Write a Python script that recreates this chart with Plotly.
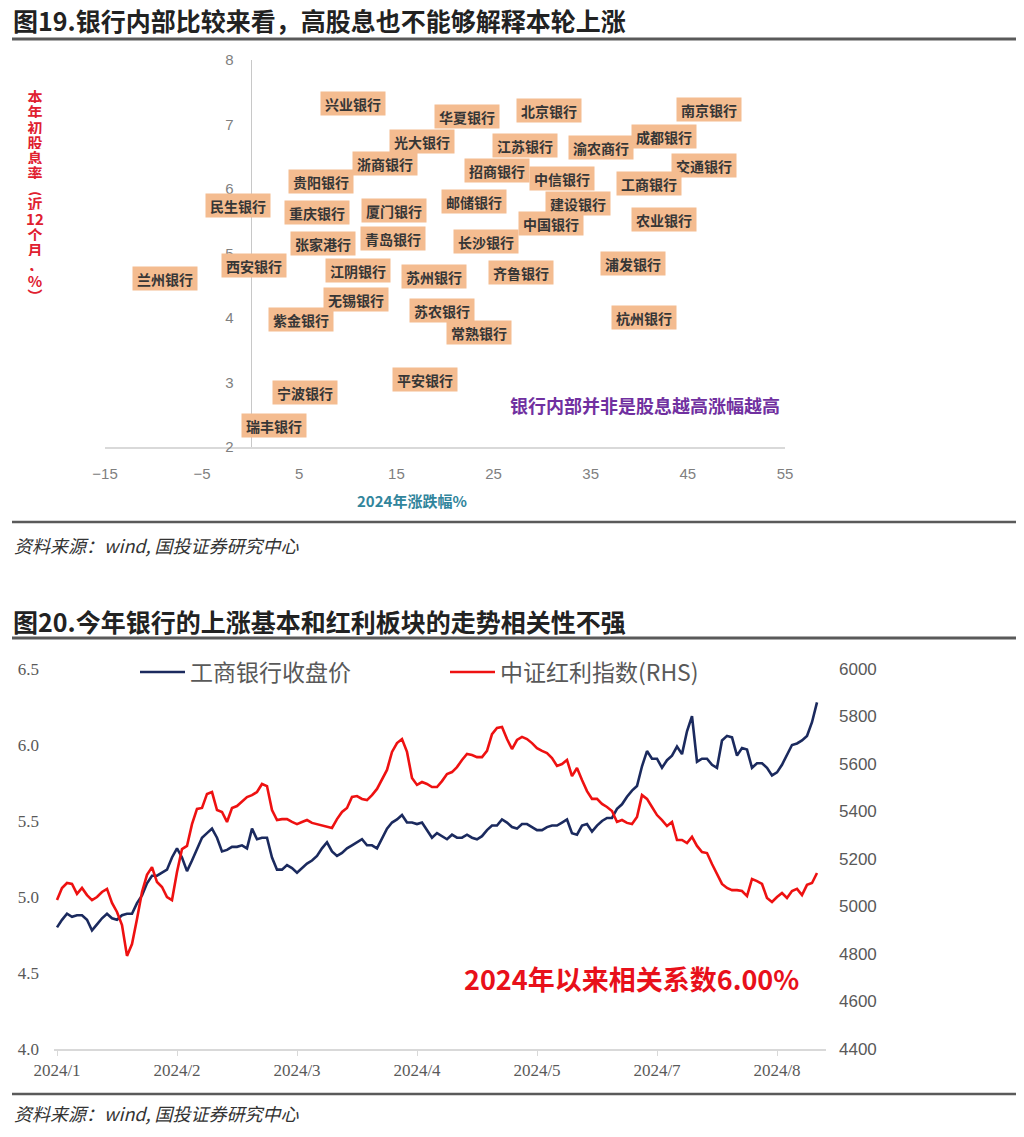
import plotly.graph_objects as go

W, H = 1024, 1137

# ---------------- Figure 19 data ----------------
bank_names = ["兴业银行", "华夏银行", "北京银行", "南京银行", "光大银行", "江苏银行", "渝农商行",
              "成都银行", "浙商银行", "招商银行", "中信银行", "交通银行", "工商银行", "贵阳银行",
              "民生银行", "重庆银行", "厦门银行", "邮储银行", "建设银行", "中国银行", "农业银行",
              "张家港行", "青岛银行", "长沙银行", "西安银行", "兰州银行", "江阴银行", "苏州银行",
              "齐鲁银行", "浦发银行", "无锡银行", "紫金银行", "苏农银行", "常熟银行", "杭州银行",
              "平安银行", "宁波银行", "瑞丰银行"]
return_2024 = [10.5, 22.3, 30.7, 47.2, 17.6, 28.2, 36.1,
               42.5, 13.8, 25.4, 32.0, 46.7, 41.0, 7.2,
               -1.3, 6.8, 14.8, 23.0, 33.7, 30.9, 42.5,
               7.4, 14.6, 24.2, 0.3, -8.8, 11.0, 18.9,
               27.8, 39.4, 10.8, 5.2, 19.7, 23.5, 40.5,
               17.9, 5.6, 2.4]
dividend_yield = [7.33, 7.12, 7.21, 7.24, 6.74, 6.68, 6.65,
                  6.82, 6.39, 6.29, 6.17, 6.36, 6.08, 6.11,
                  5.74, 5.63, 5.66, 5.80, 5.77, 5.46, 5.52,
                  5.16, 5.24, 5.19, 4.81, 4.62, 4.74, 4.65,
                  4.70, 4.84, 4.28, 3.97, 4.11, 3.77, 4.00,
                  3.05, 2.84, 2.34]
x1_range = [-15, 55]
y1_range = [2, 8]

# ---------------- Figure 20 data ----------------
icbc_close = [4.80, 4.85, 4.89, 4.87, 4.88, 4.88, 4.85, 4.78, 4.82, 4.86,
              4.89, 4.86, 4.85, 4.88, 4.89, 4.89, 4.96, 5.01, 5.09, 5.14,
              5.14, 5.16, 5.18, 5.26, 5.32, 5.26, 5.17, 5.24, 5.31, 5.39,
              5.42, 5.45, 5.39, 5.30, 5.31, 5.33, 5.33, 5.34, 5.32, 5.45,
              5.38, 5.39, 5.39, 5.26, 5.18, 5.18, 5.21, 5.19, 5.16, 5.19,
              5.22, 5.24, 5.27, 5.32, 5.36, 5.30, 5.27, 5.29, 5.32, 5.34,
              5.36, 5.38, 5.34, 5.34, 5.32, 5.39, 5.45, 5.49, 5.51, 5.54,
              5.49, 5.49, 5.48, 5.49, 5.44, 5.39, 5.42, 5.40, 5.38, 5.41,
              5.39, 5.39, 5.41, 5.39, 5.38, 5.40, 5.44, 5.47, 5.47, 5.51,
              5.49, 5.46, 5.45, 5.48, 5.48, 5.46, 5.44, 5.44, 5.46, 5.47,
              5.47, 5.49, 5.51, 5.42, 5.41, 5.47, 5.48, 5.43, 5.47, 5.50,
              5.52, 5.52, 5.58, 5.61, 5.66, 5.70, 5.73, 5.86, 5.96, 5.91,
              5.91, 5.85, 5.90, 5.93, 5.99, 5.94, 6.09, 6.19, 5.89, 5.91,
              5.91, 5.87, 5.85, 6.03, 6.06, 6.05, 5.93, 5.98, 5.97, 5.85,
              5.88, 5.88, 5.85, 5.80, 5.82, 5.87, 5.93, 6.00, 6.01, 6.03,
              6.06, 6.15, 6.28]
csi_dividend = [5027, 5078, 5099, 5095, 5053, 5078, 5048, 5027, 5040, 5061,
                5074, 5015, 4977, 4922, 4792, 4842, 4947, 5061, 5133, 5166,
                5103, 5082, 5040, 5027, 5145, 5242, 5255, 5347, 5411, 5415,
                5474, 5482, 5406, 5398, 5356, 5415, 5423, 5444, 5461, 5469,
                5482, 5516, 5507, 5406, 5364, 5368, 5368, 5356, 5347, 5356,
                5364, 5352, 5347, 5343, 5335, 5331, 5368, 5398, 5415, 5461,
                5465, 5453, 5448, 5469, 5495, 5533, 5575, 5651, 5688, 5705,
                5651, 5541, 5512, 5524, 5516, 5503, 5503, 5528, 5558, 5566,
                5587, 5617, 5642, 5638, 5629, 5629, 5655, 5726, 5752, 5756,
                5705, 5663, 5701, 5714, 5705, 5688, 5667, 5655, 5646, 5625,
                5592, 5600, 5617, 5549, 5583, 5533, 5486, 5453, 5453, 5432,
                5419, 5402, 5356, 5364, 5352, 5347, 5377, 5469, 5453, 5419,
                5385, 5364, 5339, 5356, 5280, 5280, 5267, 5293, 5255, 5229,
                5225, 5179, 5137, 5095, 5078, 5069, 5069, 5065, 5044, 5116,
                5107, 5095, 5036, 5019, 5040, 5057, 5036, 5065, 5074, 5048,
                5091, 5099, 5141]
day_index = list(range(len(icbc_close)))
tick_positions = [0, 24, 48, 72, 96, 120, 144]
tick_labels = ["2024/1", "2024/2", "2024/3", "2024/4", "2024/5", "2024/7", "2024/8"]


def px_x(px):
    return px / W


def px_y(py):
    return 1 - py / H


CJK = "Noto Sans CJK SC"

fig = go.Figure()

# ---- Figure 19 scatter ----
fig.add_trace(go.Scatter(
    x=return_2024, y=dividend_yield, mode="markers",
    marker=dict(size=2, color="rgba(0,0,0,0)"),
    xaxis="x", yaxis="y", showlegend=False, hoverinfo="text", text=bank_names))

for name, xv, yv in zip(bank_names, return_2024, dividend_yield):
    fig.add_annotation(x=xv, y=yv, xref="x", yref="y", text="<b>" + name + "</b>",
                       showarrow=False, bgcolor="#F4BC90", width=60, height=19, borderpad=2,
                       font=dict(family=CJK, size=14, color="#363636"))

# ---- Figure 20 lines ----
fig.add_trace(go.Scatter(
    x=day_index, y=icbc_close, mode="lines", name="工商银行收盘价",
    line=dict(color="#1B2A5E", width=2.6), xaxis="x2", yaxis="y3"))
fig.add_trace(go.Scatter(
    x=day_index, y=csi_dividend, mode="lines", name="中证红利指数(RHS)",
    line=dict(color="#EE1111", width=2.6), xaxis="x2", yaxis="y4"))

top_xdom = [px_x(105), px_x(785)]
top_ydom = [px_y(447), px_y(60)]
yaxis_pos = top_xdom[0] + (0 - x1_range[0]) / (x1_range[1] - x1_range[0]) * (top_xdom[1] - top_xdom[0])

bot_xdom = [px_x(54), px_x(826)]
bot_ydom = [px_y(1049), px_y(669)]

tick_font_top = dict(family="Liberation Sans", size=15, color="#7F7F7F")
serif_tick = dict(family="Liberation Serif", size=17, color="#595959")

fig.update_layout(
    width=W, height=H, margin=dict(l=0, r=0, t=0, b=0, autoexpand=False),
    paper_bgcolor="white", plot_bgcolor="white",
    xaxis=dict(domain=top_xdom, range=x1_range, dtick=10, tick0=-15, showgrid=False,
               zeroline=False, showline=True, linecolor="#D9D9D9", linewidth=1.5,
               ticks="", tickfont=tick_font_top, ticklabelstandoff=12, anchor="y",
               automargin=False),
    yaxis=dict(domain=top_ydom, range=y1_range, dtick=1, showgrid=False, zeroline=False,
               showline=True, linecolor="#C8C8C8", linewidth=1, anchor="free",
               position=yaxis_pos, ticks="", tickfont=tick_font_top, ticklabelstandoff=14,
               automargin=False),
    xaxis2=dict(domain=bot_xdom, range=[-0.6, 153.8], tickmode="array",
                tickvals=tick_positions, ticktext=tick_labels, showgrid=False, zeroline=False,
                showline=True, linecolor="#D9D9D9", linewidth=1.5, ticks="outside",
                ticklen=5, tickcolor="#D9D9D9", tickfont=serif_tick, anchor="y3",
                automargin=False),
    yaxis3=dict(domain=bot_ydom, range=[4.0, 6.5], dtick=0.5, tickformat=".1f",
                showgrid=False, zeroline=False, showline=False, ticks="",
                tickfont=serif_tick, ticklabelstandoff=14, anchor="x2", automargin=False),
    yaxis4=dict(range=[4400, 6000], dtick=200, overlaying="y3", side="right",
                showgrid=False, zeroline=False, showline=False, ticks="",
                tickfont=dict(family="Liberation Sans", size=17, color="#595959"),
                ticklabelstandoff=12, anchor="x2", automargin=False),
    legend=dict(orientation="h", x=px_x(135), y=px_y(672), xanchor="left", yanchor="middle",
                font=dict(family=CJK, size=23, color="#595959"), bgcolor="rgba(0,0,0,0)",
                entrywidth=250, entrywidthmode="pixels", itemwidth=45),
)

# ---- page decoration: titles, rules, sources ----
rule_color = "#5A5A5A"
for py, lw in [(39, 3), (522, 2.5), (638, 3), (1094, 2.5)]:
    fig.add_shape(type="line", xref="paper", yref="paper", x0=px_x(12), x1=px_x(1016),
                  y0=px_y(py), y1=px_y(py), line=dict(color=rule_color, width=lw))

fig.add_annotation(xref="paper", yref="paper", x=px_x(11), y=px_y(20), xanchor="left",
                   yanchor="middle", showarrow=False,
                   text="<b>图19.银行内部比较来看，高股息也不能够解释本轮上涨</b>",
                   font=dict(family=CJK, size=25, color="#222222"))
fig.add_annotation(xref="paper", yref="paper", x=px_x(11), y=px_y(621), xanchor="left",
                   yanchor="middle", showarrow=False,
                   text="<b>图20.今年银行的上涨基本和红利板块的走势相关性不强</b>",
                   font=dict(family=CJK, size=25, color="#222222"))
for py in [545, 1113]:
    fig.add_annotation(xref="paper", yref="paper", x=px_x(12), y=px_y(py), xanchor="left",
                       yanchor="middle", showarrow=False,
                       text="<i>资料来源：wind, 国投证券研究中心</i>",
                       font=dict(family=CJK, size=18, color="#333333"))

# y-axis title of figure 19 (vertical stacked characters)
ytitle_chars = ["本", "年", "初", "股", "息", "率", "︵", "近", "12", "个", "月", "，", "%", "︶"]
for k, ch in enumerate(ytitle_chars):
    fig.add_annotation(xref="paper", yref="paper", x=px_x(35), y=px_y(96 + k * 15.3),
                       xanchor="center", yanchor="middle", showarrow=False,
                       width=20, height=14, text="<b>" + ch + "</b>",
                       font=dict(family=CJK, size=15, color="#E02030"))

fig.add_annotation(xref="paper", yref="paper", x=px_x(412), y=px_y(500), showarrow=False,
                   text="<b>2024年涨跌幅%</b>", font=dict(family=CJK, size=15, color="#31859C"))
fig.add_annotation(xref="paper", yref="paper", x=px_x(645), y=px_y(405), showarrow=False,
                   text="<b>银行内部并非是股息越高涨幅越高</b>",
                   font=dict(family=CJK, size=18, color="#7030A0"))
fig.add_annotation(xref="paper", yref="paper", x=px_x(631), y=px_y(1000), showarrow=False,
                   text="<b>2024年以来相关系数6.00%</b>",
                   font=dict(family=CJK, size=27, color="#E8101A"))

fig.write_html("out.html", config={"displayModeBar": False},
               post_script="document.body.style.margin='0';document.body.style.overflow='hidden';")
